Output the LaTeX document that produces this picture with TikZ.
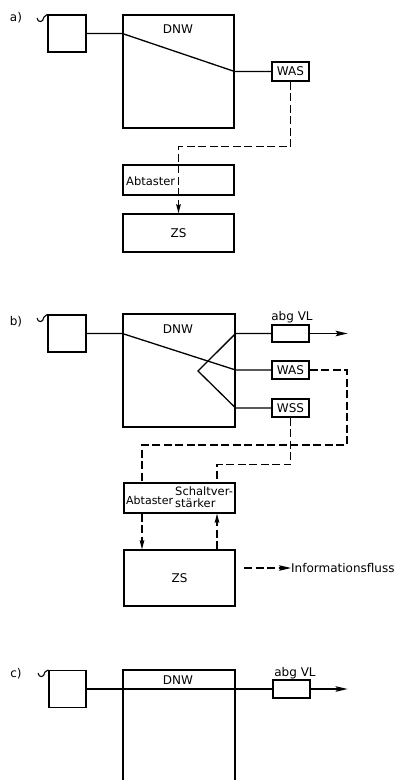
\documentclass[tikz,border=0pt]{standalone}
\usepackage{fontspec}
\setmainfont{DejaVu Sans}
\usetikzlibrary{arrows.meta}
\tikzset{
  box/.style={draw, line width=1.3pt, inner sep=0pt, minimum width=#1},
  box/.default=37pt,
  txt/.style={inner sep=0pt, font=\fontsize{12}{13}\selectfont},
  smalltxt/.style={inner sep=0pt, font=\fontsize{11}{12}\selectfont},
  wire/.style={line width=1.3pt},
  info/.style={line width=1.2pt, dash pattern=on 8pt off 3.5pt},
  bigtip/.style={-{Stealth[length=12pt,width=5.5pt,inset=2pt]}},
  smalltip/.style={-{Stealth[length=9pt,width=4.5pt,inset=1pt]}},
  tilde/.style={line width=1.1pt}
}
\begin{document}
\begin{tikzpicture}[x=1pt,y=-1pt]
\useasboundingbox (0,0) rectangle (398,780);

% ---------------- a) ----------------
\node[txt] (la) at (16,18) {a)};
\node[box=38pt, minimum height=37pt] (srcA) at (67,33.5) {};
\node[box=111pt, minimum height=113pt] (dnwA) at (178.5,71.5) {};
\node[txt] (dnwAt) at (178,29) {DNW};
\node[box=37pt, minimum height=19pt, txt] (wasA) at (290.5,71.5) {WAS};
\node[box=111pt, minimum height=30pt] (abtA) at (178.5,180) {};
\node[smalltxt, anchor=west, font=\fontsize{11.5}{12}\selectfont] (abtAt) at (126,181) {Abtaster};
\node[box=111pt, minimum height=38pt, txt] (zsA) at (178.5,233) {ZS};
\draw[tilde] (37,18) .. controls (38,23) and (43,23) .. (44,17) -- (srcA.north west);
\draw[wire] (srcA.east) -- (srcA.east -| dnwA.west) -- (wasA.west -| dnwA.east) -- (wasA.west);
\draw[info, smalltip] (wasA.south) -- ++(0,65) -| (zsA.north);

% ---------------- b) ----------------
\node[txt] (lb) at (16,322) {b)};
\node[box=38pt, minimum height=37pt] (srcB) at (67,333.5) {};
\node[box=112pt, minimum height=113pt] (dnwB) at (179,370.5) {};
\node[txt] (dnwBt) at (178,329) {DNW};
\node[box=37pt, minimum height=17pt] (vlB) at (290.5,333.5) {};
\node[txt] (vlBt) at (292,317) {abg VL};
\node[box=37pt, minimum height=18pt, txt] (wasB) at (290.5,370) {WAS};
\node[box=37pt, minimum height=18pt, txt] (wssB) at (290.5,408) {WSS};
\node[box=111pt, minimum height=30pt] (asB) at (179.5,498) {};
\node[smalltxt, anchor=west] (abtBt) at (126,500) {Abtaster};
\node[txt, anchor=west, align=left, font=\fontsize{11.5}{12.5}\selectfont] (svBt) at (175,497) {Schaltver-\\stärker};
\node[box=111pt, minimum height=56pt, txt] (zsB) at (179.5,578) {ZS};
\coordinate (apex) at (198,371);
\coordinate (bR) at (347,445);
\draw[tilde] (37,318) .. controls (38,323) and (43,323) .. (44,317) -- (srcB.north west);
\draw[wire] (srcB.east) -- (srcB.east -| dnwB.west) -- (wasB.west -| dnwB.east) -- (wasB.west);
\draw[wire] (vlB.west) -- (vlB.west -| dnwB.east) -- (apex) -- (wssB.west -| dnwB.east) -- (wssB.west);
\draw[wire, bigtip] (vlB.east) -- ++(38,0);
\draw[info] (wasB.east) -| (bR) -| ([xshift=-37.5pt]asB.north);
\draw[info] (wssB.south) -- ++(0,47) -| ([xshift=37.5pt]asB.north);
\draw[info, smalltip] ([xshift=-37.5pt]asB.south) -- ([xshift=-37.5pt]zsB.north);
\draw[info, smalltip] ([xshift=37.5pt]zsB.north) -- ([xshift=37.5pt]asB.south);
% legend
\node[txt, anchor=west] (legend) at (291,568) {Informationsfluss};
\coordinate (legS) at (244,568);
\draw[info, bigtip] (legS) -- (legend.west);

% ---------------- c) ----------------
\node[txt] (lc) at (16,674) {c)};
\node[box=37pt, minimum height=37pt] (srcC) at (67.5,689) {};
\node[minimum width=112pt, minimum height=110pt, inner sep=0pt, outer sep=0pt] (dnwC) at (179,725) {};
\draw[wire] (dnwC.south west) -- (dnwC.north west) -- (dnwC.north east) -- (dnwC.south east);
\node[txt] (dnwCt) at (178,680) {DNW};
\node[box=37pt, minimum height=18pt] (vlC) at (291.5,689) {};
\node[txt] (vlCt) at (295,673) {abg VL};
\draw[tilde] (38,673) .. controls (39,678) and (44,678) .. (45,672) -- (srcC.north west);
\draw[wire] (srcC.east) -- (vlC.west);
\draw[wire, bigtip] (vlC.east) -- ++(37,0);
\end{tikzpicture}
\end{document}
